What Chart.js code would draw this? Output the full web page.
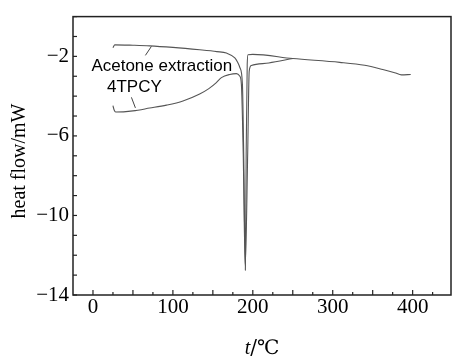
<!DOCTYPE html>
<html>
<head>
<meta charset="utf-8">
<script src="https://cdn.jsdelivr.net/npm/chart.js@4/dist/chart.umd.min.js"></script>
<style>
html,body{margin:0;padding:0;background:#fff;}
#wrap{width:452px;height:356px;position:relative;}
</style>
</head>
<body>
<div id="wrap"><canvas id="c" width="452" height="356"></canvas></div>
<script>
// Acetone extraction curve (upper before the peak)
const upperT = [25, 27.3, 50, 71, 100, 133.5, 155, 167, 177.5, 181, 183.9, 187, 188.6, 190.7, 191.7, 193, 194, 200, 250, 308.8, 340, 362.6, 377.5, 386, 397.6];
const upperV = [-1.57, -1.42, -1.44, -1.47, -1.55, -1.67, -1.76, -1.83, -2.08, -2.3, -2.57, -3.40, -6.87, -12.75, -6.87, -2.41, -1.92, -1.90, -2.11, -2.30, -2.45, -2.66, -2.82, -2.93, -2.91];
// 4TPCY curve (lower before the peak)
const lowerT = [25, 26.5, 28.4, 50, 71, 92, 112.6, 133.5, 145, 154.4, 160.7, 171.1, 179.5, 183.6, 185.7, 188, 190.5, 193.6, 195.5, 198.2, 220, 250.3];
const lowerV = [-4.48, -4.70, -4.80, -4.74, -4.60, -4.45, -4.24, -3.89, -3.62, -3.32, -3.07, -2.91, -2.87, -2.99, -3.40, -6.87, -12.56, -6.87, -2.74, -2.46, -2.33, -2.11];

const xTickLabels = [0, 100, 200, 300, 400];
const yTickLabels = [-2, -6, -10, -14];

const annotations = [
  {text: 'Acetone extraction', t: -2, v: -2.74, lead: [[65.6, -1.95], [73.1, -1.50]]},
  {text: '4TPCY', t: 17.5, v: -3.80, lead: [[48.1, -4.06], [53.1, -4.59]]}
];

const SERIF = '"Liberation Serif", "DejaVu Serif", "Times New Roman", serif';
const toXY = (ts, vs) => ts.map((t, i) => ({x: t, y: vs[i]}));
const fmtMinus = v => (v < 0 ? '\u2212' + Math.abs(v) : String(v));

const framePlugin = {
  id: 'frame',
  afterDraw(chart) {
    const ctx = chart.ctx, a = chart.chartArea;
    const xs = chart.scales.x, ys = chart.scales.y;
    ctx.save();
    ctx.strokeStyle = '#222';
    ctx.lineWidth = 1.5;
    ctx.strokeRect(a.left, a.top, a.right - a.left, a.bottom - a.top);
    ctx.lineWidth = 1.2;
    for (let t = 0; t <= 425; t += 25) {
      const px = xs.getPixelForValue(t);
      const len = (t % 50 === 0) ? 5 : 3;
      ctx.beginPath(); ctx.moveTo(px, a.bottom); ctx.lineTo(px, a.bottom - len); ctx.stroke();
    }
    for (let v = -14; v <= 0; v += 1) {
      const py = ys.getPixelForValue(v);
      ctx.beginPath(); ctx.moveTo(a.left, py); ctx.lineTo(a.left + 4, py); ctx.stroke();
    }
    // annotations
    ctx.fillStyle = '#000';
    ctx.font = '17px "Liberation Sans", Arial, sans-serif';
    ctx.textBaseline = 'alphabetic';
    ctx.textAlign = 'left';
    ctx.strokeStyle = '#444';
    ctx.lineWidth = 1;
    annotations.forEach(an => {
      ctx.fillText(an.text, xs.getPixelForValue(an.t), ys.getPixelForValue(an.v));
      ctx.beginPath();
      ctx.moveTo(xs.getPixelForValue(an.lead[0][0]), ys.getPixelForValue(an.lead[0][1]));
      ctx.lineTo(xs.getPixelForValue(an.lead[1][0]), ys.getPixelForValue(an.lead[1][1]));
      ctx.stroke();
    });
    // y title
    ctx.save();
    ctx.translate(20, 161);
    ctx.rotate(-Math.PI / 2);
    ctx.textAlign = 'center';
    ctx.textBaseline = 'middle';
    ctx.font = '20px ' + SERIF;
    ctx.fillText('heat flow/mW', 0, 0);
    ctx.restore();
    // x title: italic t + /℃
    const cx = (a.left + a.right) / 2;
    const by = 354;
    ctx.font = 'italic 20px ' + SERIF;
    const w1 = ctx.measureText('t').width;
    ctx.font = '20px "DejaVu Serif", serif';
    const w2 = ctx.measureText('/\u2103').width;
    const sx = cx - (w1 + w2) / 2;
    ctx.font = 'italic 20px ' + SERIF;
    ctx.fillText('t', sx, by);
    ctx.font = '20px "DejaVu Serif", serif';
    ctx.fillText('/\u2103', sx + w1, by);
    ctx.restore();
  }
};

new Chart(document.getElementById('c'), {
  type: 'line',
  data: {
    datasets: [
      {label: 'Acetone extraction', data: toXY(upperT, upperV), borderColor: '#555', borderWidth: 1.1, pointRadius: 0, cubicInterpolationMode: 'monotone', fill: false},
      {label: '4TPCY', data: toXY(lowerT, lowerV), borderColor: '#555', borderWidth: 1.1, pointRadius: 0, cubicInterpolationMode: 'monotone', fill: false}
    ]
  },
  options: {
    responsive: false,
    animation: false,
    devicePixelRatio: 1,
    layout: {padding: {top: 11, right: 1, left: 0, bottom: 0}},
    plugins: {legend: {display: false}, tooltip: {enabled: false}},
    scales: {
      x: {
        type: 'linear', min: -25, max: 448,
        grid: {display: false, drawTicks: false},
        border: {display: false},
        afterFit(s) { s.height = 61; },
        ticks: {
          stepSize: 25, autoSkip: false, maxRotation: 0, padding: 0,
          color: '#000',
          font: {family: SERIF, size: 21},
          callback: v => xTickLabels.includes(v) ? String(v) : ''
        }
      },
      y: {
        type: 'linear', min: -14, max: 0,
        grid: {display: false, drawTicks: false},
        border: {display: false},
        afterFit(s) { s.width = 73; },
        ticks: {
          stepSize: 1, autoSkip: false, padding: 4,
          color: '#000',
          font: {family: SERIF, size: 21},
          callback: v => yTickLabels.includes(v) ? fmtMinus(v) : ''
        }
      }
    }
  },
  plugins: [framePlugin]
});
</script>
</body>
</html>
